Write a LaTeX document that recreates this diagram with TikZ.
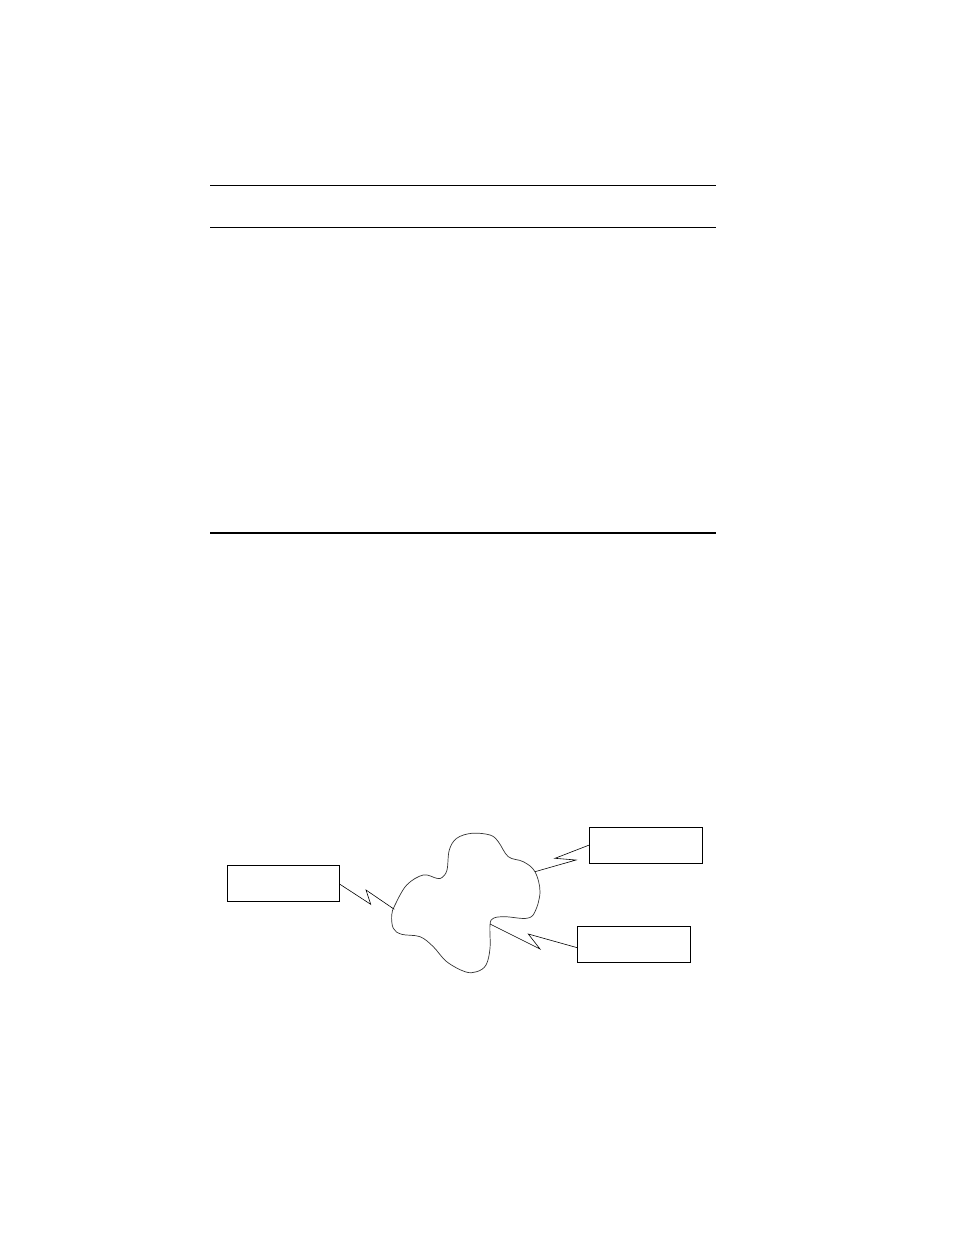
\documentclass[tikz,border=0pt]{standalone}
\begin{document}
\begin{tikzpicture}[x=1pt,y=-1pt,
  rule/.style={line width=1.2pt},
  boldrule/.style={line width=2pt},
  unit/.style={draw,line width=1pt,minimum width=112pt,minimum height=36pt,inner sep=0pt,anchor=north west},
  bolt/.style={line width=0.6pt,line join=miter},
  cloudline/.style={line width=0.7pt,draw=black!80}]
\useasboundingbox (0,0) rectangle (954,1235);
% horizontal rules
\coordinate (r1a) at (210,185.5); \coordinate (r1b) at (715.5,185.5);
\coordinate (r2a) at (210,227.5); \coordinate (r2b) at (715.5,227.5);
\coordinate (r3a) at (210,533.3); \coordinate (r3b) at (715.5,533.3);
\draw[rule] (r1a) -- (r1b);
\draw[rule] (r2a) -- (r2b);
\draw[boldrule] (r3a) -- (r3b);
% boxes
\node[unit] (left) at (227,865.3) {};
\node[unit,minimum width=113pt] (tr) at (589.3,827.3) {};
\node[unit,minimum width=113pt] (br) at (577.3,926.3) {};
% cloud
\draw[cloudline] plot[smooth cycle,tension=0.6] coordinates {
 (442,877.5) (447,870) (449.3,850) (456.7,838.3) (471.7,833.3) (490,835)
 (498.3,841.7) (508.3,856.7) (523.3,861.7) (535,871.7) (540,891.7)
 (535,911.7) (526.7,918.3) (505,916.7) (493.3,918.3) (490,925)
 (490,948.3) (486,965) (476.7,971.7) (465,971.7) (446.7,961.7)
 (433.3,946.7) (420,936.7) (401.7,934.3) (393.3,928.3) (391.7,915)
 (395,905) (406.7,885) (423.3,875) (436.7,878.3)};
\coordinate (cl) at (394.3,909.3);
\coordinate (ctr) at (535,871.7);
\coordinate (cbr) at (490,924);
% lightning connectors
\draw[bolt] (left.east |- 0,884.3) -- (370.7,904.3) -- (366,890) -- (cl);
\draw[bolt] (tr.west |- 0,845) -- (555,858.3) -- (576,860) -- (ctr);
\draw[bolt] (br.west |- 0,947.7) -- (528.3,934) -- (540,949) -- (cbr);
\end{tikzpicture}
\end{document}
